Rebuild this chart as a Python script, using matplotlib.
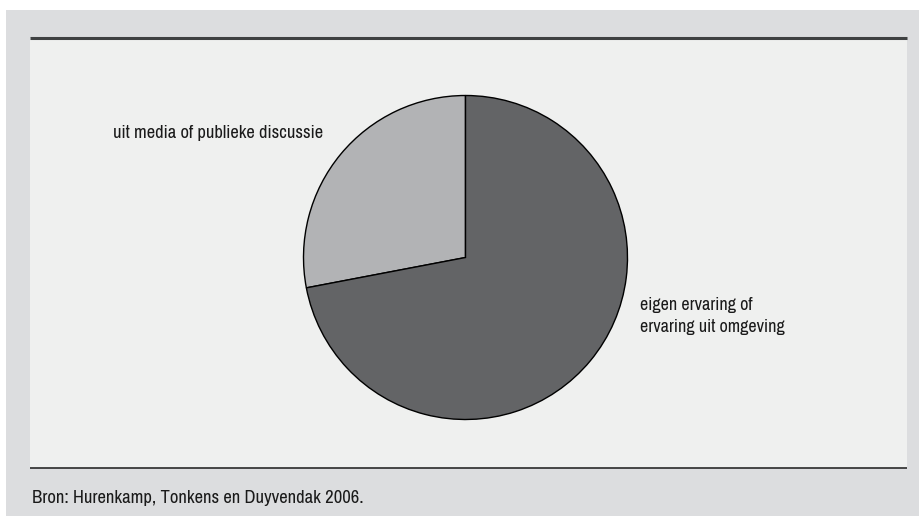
import matplotlib
matplotlib.use("Agg")
import matplotlib.pyplot as plt
from matplotlib.patches import Rectangle
from matplotlib import font_manager

# Data
categories = ["uit media of publieke discussie", "eigen ervaring of\nervaring uit omgeving"]
values = [28, 72]
colors = ["#b2b3b5", "#636466"]
source = "Bron: Hurenkamp, Tonkens en Duyvendak 2006."

names = sorted({f.name for f in font_manager.fontManager.ttflist})
narrow = [n for n in names if ("Narrow" in n or "Condensed" in n) and "Mono" not in n and "Serif" not in n]
if narrow:
    fam = [narrow[0], "Liberation Sans", "DejaVu Sans"]
    fs_lab1, fs_lab2, fs_src = 13.3, 13, 13.4
else:
    fam = ["Liberation Sans", "DejaVu Sans"]
    fs_lab1, fs_lab2, fs_src = 11.3, 11.5, 11.2
plt.rcParams['font.family'] = fam

W, H = 920, 516
fig = plt.figure(figsize=(W / 100, H / 100), dpi=100)
fig.patch.set_facecolor("white")
ax = fig.add_axes([0, 0, 1, 1])

# Background panels (pixel coordinates, y upward)
ax.add_patch(Rectangle((6, 0), W - 6, H - 10, facecolor="#dcdddf", edgecolor="none", zorder=0))
ax.add_patch(Rectangle((30, H - 468), 877, 468 - 38, facecolor="#eff0ef", edgecolor="none", zorder=0.5))
ax.plot([30, 907], [H - 38, H - 38], color="#3f4142", lw=2.2, solid_capstyle="butt", zorder=1)
ax.plot([30, 907], [H - 468, H - 468], color="#2a2a2a", lw=1.2, solid_capstyle="butt", zorder=1)

wedges, _ = ax.pie(values, colors=colors, startangle=90, counterclock=True,
                   center=(465.5, H - 257.5), radius=162,
                   wedgeprops=dict(edgecolor="black", linewidth=1.0), frame=True)
for w in wedges:
    w.set_zorder(2)

ax.set_xlim(0, W)
ax.set_ylim(0, H)
ax.set_aspect("auto")
ax.axis("off")

ax.text(113, H - 138, categories[0], fontsize=fs_lab1, color="#1a1a1a", va="baseline", ha="left", zorder=3)
ax.text(640, H - 332, categories[1], fontsize=fs_lab2, color="#1a1a1a", va="baseline", ha="left",
        linespacing=1.45, zorder=3, multialignment="left")
ax.text(32, H - 503, source, fontsize=fs_src, color="#1a1a1a", va="baseline", ha="left", zorder=3)

fig.savefig("out.png", dpi=100, facecolor=fig.get_facecolor())
